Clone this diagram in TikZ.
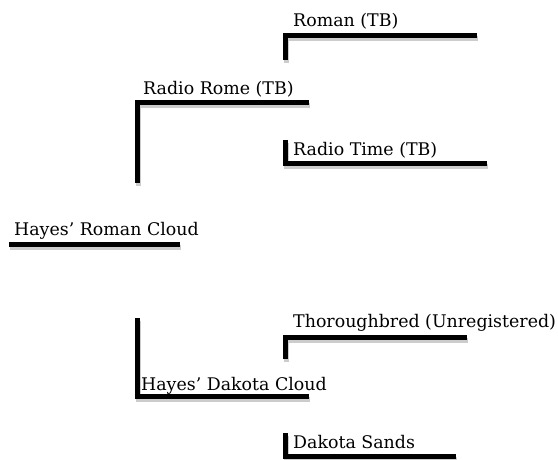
\documentclass[tikz,border=0pt]{standalone}
\usepackage{fontspec}
\setmainfont{DejaVu Serif}
\usetikzlibrary{positioning}
\definecolor{PedShadow}{gray}{0.80}

\begin{document}
\begin{tikzpicture}[x=1pt,y=-1pt,
  horse/.style={anchor=base west,inner sep=0pt,font=\fontsize{17.4}{20}\selectfont},
  bar/.style={line width=5pt,draw=black,line join=miter,
    preaction={draw=PedShadow,line width=5pt,transform canvas={shift={(1pt,-3pt)}}}}]
  \useasboundingbox (0,0) rectangle (558,460);
  % names
  \node[horse] (cloud) at (14,236) {Hayes' Roman Cloud};
  \node[horse] (rome) at (143,95) {Radio Rome (TB)};
  \node[horse] (roman) at (293,27) {Roman (TB)};
  \node[horse] (time) at (293,156) {Radio Time (TB)};
  \node[horse] (dakota) at (141,390) {Hayes' Dakota Cloud};
  \node[horse] (thorough) at (293,327) {Thoroughbred (Unregistered)};
  \node[horse] (sands) at (293,448) {Dakota Sands};
  % bracket corners
  \coordinate (cloudA) at (9,244);   \coordinate (cloudB) at (180,244);
  \coordinate (romeA) at (137,183);  \coordinate (romeB) at (309,103);
  \coordinate (romanA) at (285,60);  \coordinate (romanB) at (477,36);
  \coordinate (timeA) at (285,140);  \coordinate (timeB) at (487,164);
  \coordinate (dakotaA) at (137,318); \coordinate (dakotaB) at (309,396);
  \coordinate (thoroughA) at (285,359); \coordinate (thoroughB) at (467,337);
  \coordinate (sandsA) at (285,433); \coordinate (sandsB) at (456,456);
  \draw[bar] (cloudA) -- (cloudB);
  \draw[bar] (romeA) |- (romeB);
  \draw[bar] (romanA) |- (romanB);
  \draw[bar] (timeA) |- (timeB);
  \draw[bar] (dakotaA) |- (dakotaB);
  \draw[bar] (thoroughA) |- (thoroughB);
  \draw[bar] (sandsA) |- (sandsB);
\end{tikzpicture}
\end{document}
